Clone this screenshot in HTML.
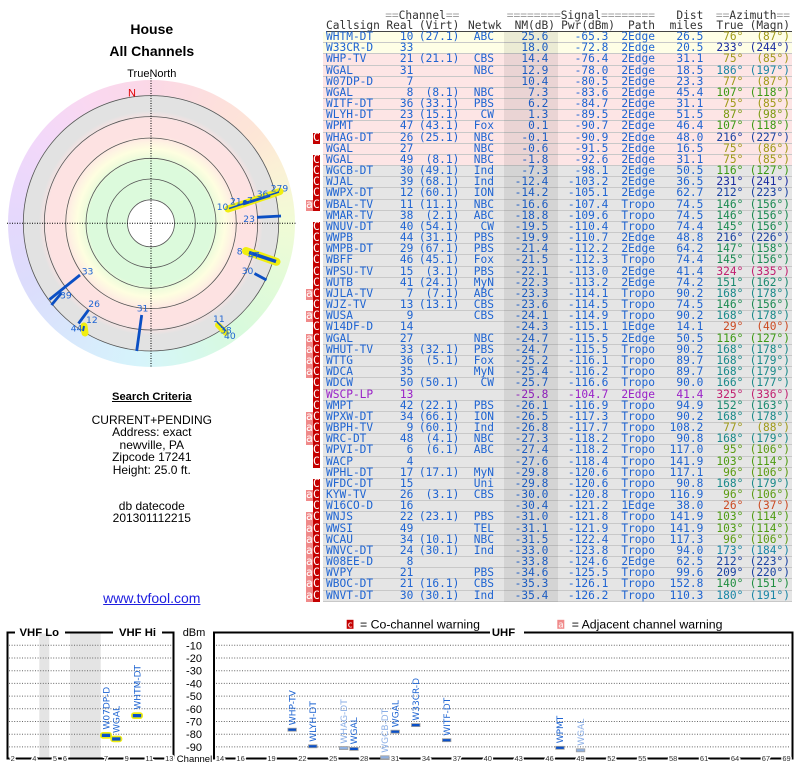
<!DOCTYPE html>
<html><head><meta charset="utf-8">
<style>
*{margin:0;padding:0}
body{width:800px;height:768px;position:relative;background:#fff;overflow:hidden;font-family:"Liberation Sans",Arial,sans-serif}
.t{position:absolute;left:0;width:303.6px;text-align:center;color:#000;white-space:nowrap}
.hd{position:absolute;font:11.2px/11px "DejaVu Sans Mono",monospace;color:#333;white-space:pre}
.hd s{text-decoration:none;color:#a0a0a0}
#tb{position:absolute;left:323px;top:32px;width:469px}
.r{position:relative;height:11.18px;box-sizing:border-box;border-bottom:1px solid #c8c8c8;font:11.2px/10.6px "DejaVu Sans Mono",monospace;color:#1e64d2;white-space:pre}
.r i{position:absolute;top:0;font-style:normal}
.y{background:#fefee6}.p{background:#fde5e5}.g{background:#e5e5e5}
.pu{color:#9a22c8}
.A{left:3px}.B{right:378.7px}.C{right:332.7px}.D{right:298px}.E{right:243.7px}.F{right:183.7px}.G{right:137px}.H{right:88.7px}.I{right:48.7px}.J{right:2px}
.r b{position:absolute;top:0;height:11.18px;font-weight:normal;color:#fff;text-align:center;line-height:10.6px}
.mc{left:-10.3px;width:7.3px;background:#c40000}
.ma{left:-17px;width:6.7px;background:#f08a8a}
.o{color:#a09a18}.k{color:#7a9a10}.e{color:#5c9c12}.f{color:#4e9c12}.h{color:#3c9a14}.m{color:#1f8e40}.n{color:#1a8a52}.q{color:#1a8a70}.tt{color:#1a8a8a}.u{color:#1a86a6}.v{color:#1a42a2}.w{color:#1a2ca0}.x{color:#c22070}.z{color:#cc4a22}
#nm{position:absolute;left:504px;top:32px;width:53.7px;height:570.2px;background:rgba(0,0,0,0.075)}
</style></head><body>

<div class="t" style="top:20px;font-weight:bold;font-size:14px;line-height:18px">House</div>
<div class="t" style="top:42px;font-weight:bold;font-size:14px;line-height:18px">All Channels</div>
<div class="t" style="top:67px;font-size:11px;line-height:14px">TrueNorth</div>

<div style="position:absolute;left:7.5px;top:79.5px;width:287px;height:287px;border-radius:50%;background:conic-gradient(#fbd8e6 0deg,#fde0dc 30deg,#fde6d6 50deg,#fbf0d6 65deg,#f2fbd6 88deg,#e4fbd8 112deg,#d8fadc 140deg,#d6f8ee 165deg,#d6f4fb 185deg,#d8e8fc 215deg,#dcdcfc 245deg,#e6d8fc 275deg,#f2d8fa 305deg,#fad8f0 335deg,#fbd8e6 360deg)"></div>
<div style="position:absolute;left:23px;top:95.3px;width:256px;height:256px;border-radius:50%;background:radial-gradient(circle closest-side,#fff 0,#fff 23.5px,#dcfadc 24px,#dcfadc 62px,#f2fcdc 68px,#fefee0 74px,#fef2e2 81px,#fde2e2 88px,#fde2e2 104px,#e2e2e2 112px,#e2e2e2 128px)"></div>

<svg width="800" height="768" style="position:absolute;left:0;top:0">
<g fill="none" stroke="#555" stroke-width="0.8">
<circle cx="151" cy="223.3" r="127.7"/><circle cx="151" cy="223.3" r="106.7"/><circle cx="151" cy="223.3" r="85.3"/><circle cx="151" cy="223.3" r="65"/><circle cx="151" cy="223.3" r="44.3"/><circle cx="151" cy="223.3" r="23.5"/>
</g>
<g stroke="#000" stroke-width="1" stroke-dasharray="1 1.5">
<line x1="7" y1="223.3" x2="296" y2="223.3"/><line x1="151" y1="78" x2="151" y2="368"/>
</g>
<text x="128" y="96.5" font-size="11" fill="#e00000" font-family="Liberation Sans,sans-serif">N</text>
<g stroke="#f0ee10" stroke-linecap="round">
<line x1="228" y1="209" x2="280" y2="191.5" stroke-width="7"/>
<line x1="246" y1="251" x2="276.5" y2="261.8" stroke-width="8"/>
<line x1="218" y1="325" x2="226" y2="333" stroke-width="6"/>
<line x1="84" y1="326" x2="85" y2="333" stroke-width="7"/>
</g>
<g stroke="#0b4fc4" stroke-width="2.8">
<line x1="229" y1="208.5" x2="279" y2="192" stroke-width="1.5"/>
<line x1="243" y1="204" x2="270" y2="195.5"/>
<line x1="257" y1="217.3" x2="281" y2="216"/>
<line x1="249" y1="252.5" x2="276" y2="261.5" stroke-width="3.5"/>
<line x1="254.5" y1="273.5" x2="266.5" y2="280"/>
<line x1="217" y1="322" x2="226" y2="331" stroke-width="1.5"/>
<line x1="141.7" y1="315" x2="136.7" y2="351"/>
<line x1="88.5" y1="310" x2="78.5" y2="323.5"/>
<line x1="84" y1="326" x2="83" y2="331" stroke-width="2"/>
<line x1="80" y1="275" x2="49.5" y2="299.5"/>
<line x1="61.5" y1="293" x2="51.5" y2="305"/>
</g>
<circle cx="245" cy="202" r="2" fill="#0b4fc4"/>
<g font-family="DejaVu Sans,sans-serif" font-size="9.2" fill="#1e64d2">
<text x="216.7" y="210">10</text><text x="230" y="204.5">21</text><text x="247" y="203.5">7</text><text x="256.7" y="197">36</text><text x="270.7" y="191.5">279</text>
<text x="243.3" y="221.8">23</text><text x="236.7" y="254.5">8</text><text x="248" y="258.5">47</text><text x="241.7" y="274.2">30</text>
<text x="224" y="339">40</text><text x="213" y="321.8">11</text><text x="220" y="333.5">38</text>
<text x="136.7" y="311.5">31</text><text x="88.3" y="306.8">26</text><text x="86" y="322.8">12</text><text x="70.7" y="331.5">44</text>
<text x="81.7" y="274.5">33</text><text x="60" y="298.5">39</text>
</g>

<!-- legend -->
<rect x="346.7" y="619.8" width="6.8" height="9" fill="#c40000"/>
<text x="350.1" y="627.5" font-size="9" fill="#fff" text-anchor="middle" font-family="DejaVu Sans Mono,monospace">c</text>
<text x="360" y="628.5" font-size="12.3" fill="#000">= Co-channel warning</text>
<rect x="557.3" y="619.8" width="7" height="9" fill="#f08a8a"/>
<text x="560.8" y="627.5" font-size="9" fill="#fff" text-anchor="middle" font-family="DejaVu Sans Mono,monospace">a</text>
<text x="571.7" y="628.5" font-size="12.3" fill="#000">= Adjacent channel warning</text>

<!-- VHF box -->
<rect x="39.3" y="633.5" width="10" height="124" fill="#e4e4e4"/>
<rect x="70" y="633.5" width="30.7" height="124" fill="#e4e4e4"/>
<g stroke="#666" stroke-width="1" stroke-dasharray="1 1.6">
<path d="M9 645.3H172M9 658H172M9 670.7H172M9 683.4H172M9 696.1H172M9 708.8H172M9 721.5H172M9 734.2H172M9 746.9H172"/>
<path d="M216 645.3H790M216 658H790M216 670.7H790M216 683.4H790M216 696.1H790M216 708.8H790M216 721.5H790M216 734.2H790M216 746.9H790"/>
</g>
<path d="M15 632.5H7.5V758.5H173.5V632.5H162M113 632.5H65" stroke="#000" stroke-width="2" fill="none"/>
<path d="M490 632.5H214V758.5H792.5V632.5H524" stroke="#000" stroke-width="2" fill="none"/>
<g font-weight="bold" font-size="11.3" fill="#000" text-anchor="middle">
<text x="39.3" y="636">VHF Lo</text><text x="137.5" y="636">VHF Hi</text><text x="503.5" y="636">UHF</text>
</g>
<g font-size="11" fill="#000" text-anchor="middle">
<text x="194" y="636">dBm</text>
<text x="194" y="649.3">-10</text><text x="194" y="662">-20</text><text x="194" y="674.7">-30</text><text x="194" y="687.4">-40</text><text x="194" y="700.1">-50</text><text x="194" y="712.8">-60</text><text x="194" y="725.5">-70</text><text x="194" y="738.2">-80</text><text x="194" y="750.9">-90</text>
</g>
<text x="194.5" y="762" font-size="9.5" fill="#000" text-anchor="middle">Channel</text>
<g font-size="7.5" fill="#333" text-anchor="middle" stroke="#fff" stroke-width="3" paint-order="stroke">
<text x="12.7" y="761">2</text><text x="34.3" y="761">4</text><text x="55" y="761">5</text><text x="65" y="761">6</text><text x="106" y="761">7</text><text x="126.7" y="761">9</text><text x="149.3" y="761">11</text><text x="169.3" y="761">13</text>
<text x="220" y="761">14</text><text x="240.6" y="761">16</text><text x="271.5" y="761">19</text><text x="302.4" y="761">22</text><text x="333.3" y="761">25</text><text x="364.2" y="761">28</text><text x="395.1" y="761">31</text><text x="426" y="761">34</text><text x="456.9" y="761">37</text><text x="487.8" y="761">40</text><text x="518.7" y="761">43</text><text x="549.6" y="761">46</text><text x="580.5" y="761">49</text><text x="611.4" y="761">52</text><text x="642.3" y="761">55</text><text x="673.2" y="761">58</text><text x="704.1" y="761">61</text><text x="735" y="761">64</text><text x="765.9" y="761">67</text><text x="786.5" y="761">69</text>
</g>
<!-- VHF markers -->
<g fill="#f0ee10">
<rect x="100" y="732" width="12" height="6.7" rx="3"/><rect x="110.3" y="735.6" width="12" height="6.7" rx="3"/><rect x="131" y="712.3" width="12" height="6.7" rx="3"/>
</g>
<g fill="#0a50c8">
<rect x="101.8" y="733.7" width="8.4" height="3.3"/><rect x="112.1" y="737.3" width="8.4" height="3.3"/><rect x="132.8" y="714" width="8.4" height="3.3"/>
</g>
<g font-family="DejaVu Sans,sans-serif" font-size="9" fill="#1e64d2">
<text transform="translate(109.3,729.5) rotate(-90)">W07DP-D</text>
<text transform="translate(119.6,733) rotate(-90)">WGAL</text>
<text transform="translate(140.3,709.6) rotate(-90)">WHTM-DT</text>
<text transform="translate(295.4,725.2) rotate(-90)">WHP-TV</text>
<text transform="translate(316,741.8) rotate(-90)">WLYH-DT</text>
<text transform="translate(357.2,744.4) rotate(-90)">WGAL</text>
<text transform="translate(398.4,727.2) rotate(-90)">WGAL</text>
<text transform="translate(419,720.6) rotate(-90)">W33CR-D</text>
<text transform="translate(449.9,735.7) rotate(-90)">WITF-DT</text>
<text transform="translate(563.2,743.3) rotate(-90)">WPMT</text>
</g>
<g font-family="DejaVu Sans,sans-serif" font-size="9" fill="#8aaee6">
<text transform="translate(346.9,743.6) rotate(-90)">WHAG-DT</text>
<text transform="translate(388.1,752.8) rotate(-90)">WGCB-DT</text>
<text transform="translate(583.8,745.8) rotate(-90)">WGAL</text>
</g>
<g stroke="#a0a0a0" stroke-width="0.8">
<g fill="#0a50c8">
<rect x="287.9" y="728.2" width="8.5" height="3"/><rect x="308.5" y="744.8" width="8.5" height="3"/><rect x="349.7" y="747.4" width="8.5" height="3"/><rect x="390.9" y="730.2" width="8.5" height="3"/><rect x="411.5" y="723.6" width="8.5" height="3"/><rect x="442.4" y="738.7" width="8.5" height="3"/><rect x="555.7" y="746.3" width="8.5" height="3"/>
</g>
<g fill="#8eb0e0">
<rect x="339.4" y="746.6" width="8.5" height="3"/><rect x="380.6" y="755.8" width="8.5" height="3"/><rect x="576.3" y="748.8" width="8.5" height="3"/>
</g>
</g>
</svg>

<div class="t" style="top:390px;font-weight:bold;font-size:11.2px;line-height:15px;text-decoration:underline">Search Criteria</div>
<div class="t" style="top:413.5px;font-size:12px;line-height:12.5px">CURRENT+PENDING<br>Address: exact<br>newville, PA<br>Zipcode 17241<br>Height: 25.0 ft.</div>
<div class="t" style="top:499.5px;font-size:12px;line-height:12.6px">db datecode<br>201301112215</div>
<div class="t" style="top:590px;font-size:14px;line-height:16px;color:#2020e0;text-decoration:underline">www.tvfool.com</div>

<div class="hd" style="top:9.5px;right:340.7px"><s>==</s>Channel<s>==</s></div>
<div class="hd" style="top:9.5px;right:145px"><s>========</s>Signal<s>========</s></div>
<div class="hd" style="top:9.5px;right:96.7px">Dist</div>
<div class="hd" style="top:9.5px;right:10px"><s>==</s>Azimuth<s>==</s></div>
<div class="hd" style="top:19.5px;left:326px">Callsign</div>
<div class="hd" style="top:19.5px;right:386.7px">Real</div>
<div class="hd" style="top:19.5px;right:340.7px">(Virt)</div>
<div class="hd" style="top:19.5px;right:298.3px">Netwk</div>
<div class="hd" style="top:19.5px;right:245px">NM(dB)</div>
<div class="hd" style="top:19.5px;right:185px">Pwr(dBm)</div>
<div class="hd" style="top:19.5px;right:145px">Path</div>
<div class="hd" style="top:19.5px;right:96.7px">miles</div>
<div class="hd" style="top:19.5px;right:56.7px">True</div>
<div class="hd" style="top:19.5px;right:10px">(Magn)</div>
<div style="position:absolute;left:326px;top:30.5px;width:466px;height:1px;background:#444"></div>

<div id="tb">
<div class="r y"><i class=A>WHTM-DT</i><i class=B>10</i><i class=C>(27.1)</i><i class=D>ABC</i><i class=E>25.6</i><i class=F>-65.3</i><i class=G>2Edge</i><i class=H>26.5</i><i class="I o">76°</i><i class="J o">(87°)</i></div>
<div class="r y"><i class=A>W33CR-D</i><i class=B>33</i><i class=E>18.0</i><i class=F>-72.8</i><i class=G>2Edge</i><i class=H>20.5</i><i class="I w">233°</i><i class="J w">(244°)</i></div>
<div class="r p"><i class=A>WHP-TV</i><i class=B>21</i><i class=C>(21.1)</i><i class=D>CBS</i><i class=E>14.4</i><i class=F>-76.4</i><i class=G>2Edge</i><i class=H>31.1</i><i class="I o">75°</i><i class="J o">(85°)</i></div>
<div class="r p"><i class=A>WGAL</i><i class=B>31</i><i class=D>NBC</i><i class=E>12.9</i><i class=F>-78.0</i><i class=G>2Edge</i><i class=H>18.5</i><i class="I u">186°</i><i class="J u">(197°)</i></div>
<div class="r p"><i class=A>W07DP-D</i><i class=B>7</i><i class=E>10.4</i><i class=F>-80.5</i><i class=G>2Edge</i><i class=H>23.3</i><i class="I o">77°</i><i class="J o">(87°)</i></div>
<div class="r p"><i class=A>WGAL</i><i class=B>8</i><i class=C>(8.1)</i><i class=D>NBC</i><i class=E>7.3</i><i class=F>-83.6</i><i class=G>2Edge</i><i class=H>45.4</i><i class="I h">107°</i><i class="J h">(118°)</i></div>
<div class="r p"><i class=A>WITF-DT</i><i class=B>36</i><i class=C>(33.1)</i><i class=D>PBS</i><i class=E>6.2</i><i class=F>-84.7</i><i class=G>2Edge</i><i class=H>31.1</i><i class="I o">75°</i><i class="J o">(85°)</i></div>
<div class="r p"><i class=A>WLYH-DT</i><i class=B>23</i><i class=C>(15.1)</i><i class=D>CW</i><i class=E>1.3</i><i class=F>-89.5</i><i class=G>2Edge</i><i class=H>51.5</i><i class="I k">87°</i><i class="J k">(98°)</i></div>
<div class="r p"><i class=A>WPMT</i><i class=B>47</i><i class=C>(43.1)</i><i class=D>Fox</i><i class=E>0.1</i><i class=F>-90.7</i><i class=G>2Edge</i><i class=H>46.4</i><i class="I h">107°</i><i class="J h">(118°)</i></div>
<div class="r p"><b class=mc>C</b><i class=A>WHAG-DT</i><i class=B>26</i><i class=C>(25.1)</i><i class=D>NBC</i><i class=E>-0.1</i><i class=F>-90.9</i><i class=G>2Edge</i><i class=H>48.0</i><i class="I v">216°</i><i class="J v">(227°)</i></div>
<div class="r p"><i class=A>WGAL</i><i class=B>27</i><i class=D>NBC</i><i class=E>-0.6</i><i class=F>-91.5</i><i class=G>2Edge</i><i class=H>16.5</i><i class="I o">75°</i><i class="J o">(86°)</i></div>
<div class="r p"><b class=mc>C</b><i class=A>WGAL</i><i class=B>49</i><i class=C>(8.1)</i><i class=D>NBC</i><i class=E>-1.8</i><i class=F>-92.6</i><i class=G>2Edge</i><i class=H>31.1</i><i class="I o">75°</i><i class="J o">(85°)</i></div>
<div class="r g"><b class=mc>C</b><i class=A>WGCB-DT</i><i class=B>30</i><i class=C>(49.1)</i><i class=D>Ind</i><i class=E>-7.3</i><i class=F>-98.1</i><i class=G>2Edge</i><i class=H>50.5</i><i class="I h">116°</i><i class="J h">(127°)</i></div>
<div class="r g"><b class=mc>C</b><i class=A>WJAL</i><i class=B>39</i><i class=C>(68.1)</i><i class=D>Ind</i><i class=E>-12.4</i><i class=F>-103.2</i><i class=G>2Edge</i><i class=H>36.5</i><i class="I w">231°</i><i class="J w">(241°)</i></div>
<div class="r g"><b class=mc>C</b><i class=A>WWPX-DT</i><i class=B>12</i><i class=C>(60.1)</i><i class=D>ION</i><i class=E>-14.2</i><i class=F>-105.1</i><i class=G>2Edge</i><i class=H>62.7</i><i class="I v">212°</i><i class="J v">(223°)</i></div>
<div class="r g"><b class=ma>a</b><b class=mc>C</b><i class=A>WBAL-TV</i><i class=B>11</i><i class=C>(11.1)</i><i class=D>NBC</i><i class=E>-16.6</i><i class=F>-107.4</i><i class=G>Tropo</i><i class=H>74.5</i><i class="I n">146°</i><i class="J n">(156°)</i></div>
<div class="r g"><i class=A>WMAR-TV</i><i class=B>38</i><i class=C>(2.1)</i><i class=D>ABC</i><i class=E>-18.8</i><i class=F>-109.6</i><i class=G>Tropo</i><i class=H>74.5</i><i class="I n">146°</i><i class="J n">(156°)</i></div>
<div class="r g"><b class=mc>C</b><i class=A>WNUV-DT</i><i class=B>40</i><i class=C>(54.1)</i><i class=D>CW</i><i class=E>-19.5</i><i class=F>-110.4</i><i class=G>Tropo</i><i class=H>74.4</i><i class="I n">145°</i><i class="J n">(156°)</i></div>
<div class="r g"><b class=mc>C</b><i class=A>WWPB</i><i class=B>44</i><i class=C>(31.1)</i><i class=D>PBS</i><i class=E>-19.9</i><i class=F>-110.7</i><i class=G>2Edge</i><i class=H>48.8</i><i class="I v">216°</i><i class="J v">(226°)</i></div>
<div class="r g"><b class=mc>C</b><i class=A>WMPB-DT</i><i class=B>29</i><i class=C>(67.1)</i><i class=D>PBS</i><i class=E>-21.4</i><i class=F>-112.2</i><i class=G>2Edge</i><i class=H>64.2</i><i class="I n">147°</i><i class="J n">(158°)</i></div>
<div class="r g"><b class=mc>C</b><i class=A>WBFF</i><i class=B>46</i><i class=C>(45.1)</i><i class=D>Fox</i><i class=E>-21.5</i><i class=F>-112.3</i><i class=G>Tropo</i><i class=H>74.4</i><i class="I n">145°</i><i class="J n">(156°)</i></div>
<div class="r g"><b class=mc>C</b><i class=A>WPSU-TV</i><i class=B>15</i><i class=C>(3.1)</i><i class=D>PBS</i><i class=E>-22.1</i><i class=F>-113.0</i><i class=G>2Edge</i><i class=H>41.4</i><i class="I x">324°</i><i class="J x">(335°)</i></div>
<div class="r g"><b class=mc>C</b><i class=A>WUTB</i><i class=B>41</i><i class=C>(24.1)</i><i class=D>MyN</i><i class=E>-22.3</i><i class=F>-113.2</i><i class=G>2Edge</i><i class=H>74.2</i><i class="I q">151°</i><i class="J q">(162°)</i></div>
<div class="r g"><b class=ma>a</b><b class=mc>C</b><i class=A>WJLA-TV</i><i class=B>7</i><i class=C>(7.1)</i><i class=D>ABC</i><i class=E>-23.3</i><i class=F>-114.1</i><i class=G>Tropo</i><i class=H>90.2</i><i class="I tt">168°</i><i class="J tt">(178°)</i></div>
<div class="r g"><b class=mc>C</b><i class=A>WJZ-TV</i><i class=B>13</i><i class=C>(13.1)</i><i class=D>CBS</i><i class=E>-23.6</i><i class=F>-114.5</i><i class=G>Tropo</i><i class=H>74.5</i><i class="I n">146°</i><i class="J n">(156°)</i></div>
<div class="r g"><b class=ma>a</b><b class=mc>C</b><i class=A>WUSA</i><i class=B>9</i><i class=D>CBS</i><i class=E>-24.1</i><i class=F>-114.9</i><i class=G>Tropo</i><i class=H>90.2</i><i class="I tt">168°</i><i class="J tt">(178°)</i></div>
<div class="r g"><b class=mc>C</b><i class=A>W14DF-D</i><i class=B>14</i><i class=E>-24.3</i><i class=F>-115.1</i><i class=G>1Edge</i><i class=H>14.1</i><i class="I z">29°</i><i class="J z">(40°)</i></div>
<div class="r g"><b class=ma>a</b><b class=mc>C</b><i class=A>WGAL</i><i class=B>27</i><i class=D>NBC</i><i class=E>-24.7</i><i class=F>-115.5</i><i class=G>2Edge</i><i class=H>50.5</i><i class="I h">116°</i><i class="J h">(127°)</i></div>
<div class="r g"><b class=ma>a</b><b class=mc>C</b><i class=A>WHUT-TV</i><i class=B>33</i><i class=C>(32.1)</i><i class=D>PBS</i><i class=E>-24.7</i><i class=F>-115.5</i><i class=G>Tropo</i><i class=H>90.2</i><i class="I tt">168°</i><i class="J tt">(178°)</i></div>
<div class="r g"><b class=ma>a</b><b class=mc>C</b><i class=A>WTTG</i><i class=B>36</i><i class=C>(5.1)</i><i class=D>Fox</i><i class=E>-25.2</i><i class=F>-116.1</i><i class=G>Tropo</i><i class=H>89.7</i><i class="I tt">168°</i><i class="J tt">(179°)</i></div>
<div class="r g"><b class=ma>a</b><b class=mc>C</b><i class=A>WDCA</i><i class=B>35</i><i class=D>MyN</i><i class=E>-25.4</i><i class=F>-116.2</i><i class=G>Tropo</i><i class=H>89.7</i><i class="I tt">168°</i><i class="J tt">(179°)</i></div>
<div class="r g"><b class=mc>C</b><i class=A>WDCW</i><i class=B>50</i><i class=C>(50.1)</i><i class=D>CW</i><i class=E>-25.7</i><i class=F>-116.6</i><i class=G>Tropo</i><i class=H>90.0</i><i class="I tt">166°</i><i class="J tt">(177°)</i></div>
<div class="r g pu"><b class=mc>C</b><i class=A>WSCP-LP</i><i class=B>13</i><i class=E>-25.8</i><i class=F>-104.7</i><i class=G>2Edge</i><i class=H>41.4</i><i class="I x">325°</i><i class="J x">(336°)</i></div>
<div class="r g"><b class=mc>C</b><i class=A>WMPT</i><i class=B>42</i><i class=C>(22.1)</i><i class=D>PBS</i><i class=E>-26.1</i><i class=F>-116.9</i><i class=G>Tropo</i><i class=H>94.9</i><i class="I q">152°</i><i class="J q">(163°)</i></div>
<div class="r g"><b class=ma>a</b><b class=mc>C</b><i class=A>WPXW-DT</i><i class=B>34</i><i class=C>(66.1)</i><i class=D>ION</i><i class=E>-26.5</i><i class=F>-117.3</i><i class=G>Tropo</i><i class=H>90.2</i><i class="I tt">168°</i><i class="J tt">(178°)</i></div>
<div class="r g"><b class=ma>a</b><b class=mc>C</b><i class=A>WBPH-TV</i><i class=B>9</i><i class=C>(60.1)</i><i class=D>Ind</i><i class=E>-26.8</i><i class=F>-117.7</i><i class=G>Tropo</i><i class=H>108.2</i><i class="I o">77°</i><i class="J o">(88°)</i></div>
<div class="r g"><b class=ma>a</b><b class=mc>C</b><i class=A>WRC-DT</i><i class=B>48</i><i class=C>(4.1)</i><i class=D>NBC</i><i class=E>-27.3</i><i class=F>-118.2</i><i class=G>Tropo</i><i class=H>90.8</i><i class="I tt">168°</i><i class="J tt">(179°)</i></div>
<div class="r g"><b class=mc>C</b><i class=A>WPVI-DT</i><i class=B>6</i><i class=C>(6.1)</i><i class=D>ABC</i><i class=E>-27.4</i><i class=F>-118.2</i><i class=G>Tropo</i><i class=H>117.0</i><i class="I e">95°</i><i class="J e">(106°)</i></div>
<div class="r g"><b class=mc>C</b><i class=A>WACP</i><i class=B>4</i><i class=E>-27.6</i><i class=F>-118.4</i><i class=G>Tropo</i><i class=H>141.9</i><i class="I f">103°</i><i class="J f">(114°)</i></div>
<div class="r g"><i class=A>WPHL-DT</i><i class=B>17</i><i class=C>(17.1)</i><i class=D>MyN</i><i class=E>-29.8</i><i class=F>-120.6</i><i class=G>Tropo</i><i class=H>117.1</i><i class="I e">96°</i><i class="J e">(106°)</i></div>
<div class="r g"><b class=mc>C</b><i class=A>WFDC-DT</i><i class=B>15</i><i class=D>Uni</i><i class=E>-29.8</i><i class=F>-120.6</i><i class=G>Tropo</i><i class=H>90.8</i><i class="I tt">168°</i><i class="J tt">(179°)</i></div>
<div class="r g"><b class=ma>a</b><b class=mc>C</b><i class=A>KYW-TV</i><i class=B>26</i><i class=C>(3.1)</i><i class=D>CBS</i><i class=E>-30.0</i><i class=F>-120.8</i><i class=G>Tropo</i><i class=H>116.9</i><i class="I e">96°</i><i class="J e">(106°)</i></div>
<div class="r g"><b class=mc>C</b><i class=A>W16CO-D</i><i class=B>16</i><i class=E>-30.4</i><i class=F>-121.2</i><i class=G>1Edge</i><i class=H>38.0</i><i class="I z">26°</i><i class="J z">(37°)</i></div>
<div class="r g"><b class=ma>a</b><b class=mc>C</b><i class=A>WNJS</i><i class=B>22</i><i class=C>(23.1)</i><i class=D>PBS</i><i class=E>-31.0</i><i class=F>-121.8</i><i class=G>Tropo</i><i class=H>141.9</i><i class="I f">103°</i><i class="J f">(114°)</i></div>
<div class="r g"><b class=ma>a</b><b class=mc>C</b><i class=A>WWSI</i><i class=B>49</i><i class=D>TEL</i><i class=E>-31.1</i><i class=F>-121.9</i><i class=G>Tropo</i><i class=H>141.9</i><i class="I f">103°</i><i class="J f">(114°)</i></div>
<div class="r g"><b class=ma>a</b><b class=mc>C</b><i class=A>WCAU</i><i class=B>34</i><i class=C>(10.1)</i><i class=D>NBC</i><i class=E>-31.5</i><i class=F>-122.4</i><i class=G>Tropo</i><i class=H>117.3</i><i class="I e">96°</i><i class="J e">(106°)</i></div>
<div class="r g"><b class=ma>a</b><b class=mc>C</b><i class=A>WNVC-DT</i><i class=B>24</i><i class=C>(30.1)</i><i class=D>Ind</i><i class=E>-33.0</i><i class=F>-123.8</i><i class=G>Tropo</i><i class=H>94.0</i><i class="I u">173°</i><i class="J u">(184°)</i></div>
<div class="r g"><b class=ma>a</b><b class=mc>C</b><i class=A>W08EE-D</i><i class=B>8</i><i class=E>-33.8</i><i class=F>-124.6</i><i class=G>2Edge</i><i class=H>62.5</i><i class="I v">212°</i><i class="J v">(223°)</i></div>
<div class="r g"><b class=ma>a</b><b class=mc>C</b><i class=A>WVPY</i><i class=B>21</i><i class=D>PBS</i><i class=E>-34.6</i><i class=F>-125.5</i><i class=G>Tropo</i><i class=H>99.6</i><i class="I v">209°</i><i class="J v">(220°)</i></div>
<div class="r g"><b class=ma>a</b><b class=mc>C</b><i class=A>WBOC-DT</i><i class=B>21</i><i class=C>(16.1)</i><i class=D>CBS</i><i class=E>-35.3</i><i class=F>-126.1</i><i class=G>Tropo</i><i class=H>152.8</i><i class="I m">140°</i><i class="J m">(151°)</i></div>
<div class="r g"><b class=ma>a</b><b class=mc>C</b><i class=A>WNVT-DT</i><i class=B>30</i><i class=C>(30.1)</i><i class=D>Ind</i><i class=E>-35.4</i><i class=F>-126.2</i><i class=G>Tropo</i><i class=H>110.3</i><i class="I u">180°</i><i class="J u">(191°)</i></div>
</div>
<div id="nm"></div>
</body></html>
